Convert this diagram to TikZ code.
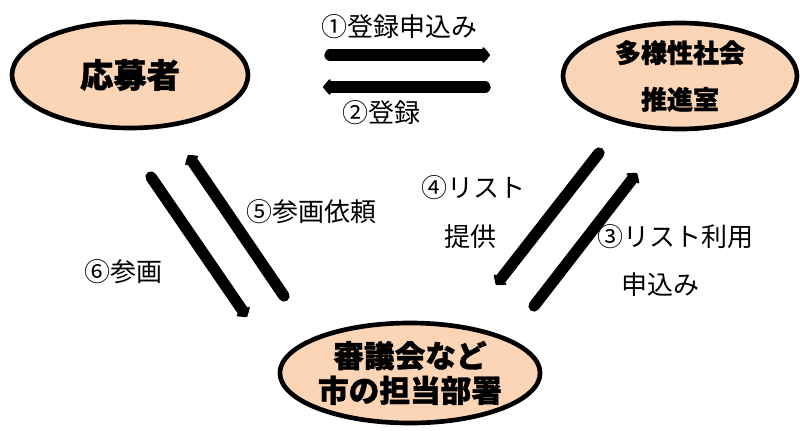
\documentclass[tikz,border=0pt]{standalone}
\usepackage{fontspec}
\newfontfamily\cjk{Noto Sans CJK JP}
\newfontfamily\cjkheavy{Noto Sans CJK JP}[BoldFeatures={FakeBold=1.2}]
\usetikzlibrary{arrows.meta,shapes.geometric}
\definecolor{peach}{RGB}{251,213,181}
\tikzset{
  party/.style={ellipse,draw=black,line width=3.5pt,fill=peach,inner sep=0pt,align=center},
  flow/.style={line width=8.5pt,line cap=round,-{Triangle[length=6pt,width=14pt,round]}},
  lbl/.style={font=\cjk\fontsize{19.5pt}{23pt}\selectfont,inner sep=0pt,anchor=west}
}
\begin{document}
\begin{tikzpicture}[x=0.75pt,y=-0.75pt]
\useasboundingbox (0,0) rectangle (800,430);
\node[party,minimum width=236*0.75pt,minimum height=106*0.75pt,font=\cjkheavy\bfseries\fontsize{25pt}{30pt}\selectfont] (app) at (130,75) {応募者};
\node[party,minimum width=234*0.75pt,minimum height=106*0.75pt,font=\cjkheavy\bfseries\fontsize{19.5pt}{35pt}\selectfont] (off) at (680,76) {多様性社会\\推進室};
\node[party,minimum width=250*0.75pt,minimum height=100*0.75pt,font=\cjkheavy\bfseries\fontsize{23pt}{26pt}\selectfont] (dep) at (410,373) {審議会など\\市の担当部署};
% arrow end points
\coordinate (a1s) at (330,55); \coordinate (a1e) at (490,55);
\coordinate (a2s) at (485,87); \coordinate (a2e) at (323,87);
\coordinate (a6s) at (151,177); \coordinate (a6e) at (247,317);
\coordinate (a5s) at (284,296); \coordinate (a5e) at (188,155);
\coordinate (a4s) at (599,153); \coordinate (a4e) at (496,285);
\coordinate (a3s) at (534,306); \coordinate (a3e) at (637,173);
\draw[flow] (a1s) -- (a1e);
\draw[flow] (a2s) -- (a2e);
\draw[flow] (a6s) -- (a6e);
\draw[flow] (a5s) -- (a5e);
\draw[flow] (a4s) -- (a4e);
\draw[flow] (a3s) -- (a3e);
\node[lbl] (l1) at (321,27) {①登録申込み};
\node[lbl] (l2) at (342,113) {②登録};
\node[lbl] (l5) at (246,212) {⑤参画依頼};
\node[lbl] (l6) at (84,272) {⑥参画};
\node[lbl] (l4a) at (421,188) {④リスト};
\node[lbl] (l4b) at (444,237) {提供};
\node[lbl] (l3a) at (597,237) {③リスト利用};
\node[lbl] (l3b) at (621,285) {申込み};
\end{tikzpicture}
\end{document}
